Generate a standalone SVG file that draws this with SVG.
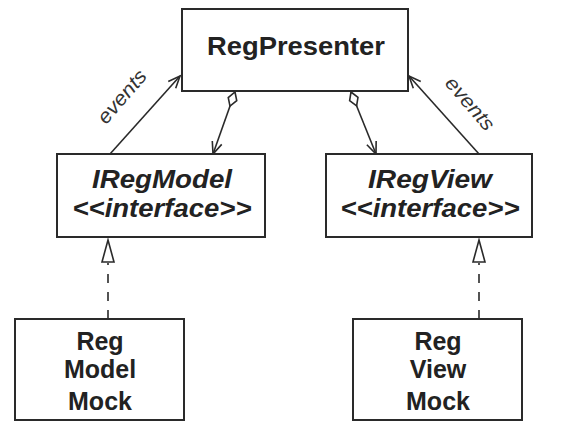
<svg xmlns="http://www.w3.org/2000/svg" width="573" height="423" viewBox="0 0 573 423">
<style>
.box{fill:#fff;stroke:#2a2a2a;stroke-width:2}
.t{font-family:"Liberation Sans",Arial,sans-serif;font-weight:bold;font-size:25px;fill:#222;text-anchor:middle}
.i{font-style:italic}
.lbl{font-family:"Liberation Sans",Arial,sans-serif;font-style:italic;font-size:20px;fill:#333;text-anchor:middle}
.ln{fill:none;stroke:#2a2a2a;stroke-width:1.6}
</style>
<defs>
<marker id="open" markerUnits="userSpaceOnUse" markerWidth="16" markerHeight="14" refX="13" refY="6" orient="auto" viewBox="0 0 16 12">
<path d="M1,1 L13,6 L1,11" fill="none" stroke="#2a2a2a" stroke-width="1.6"/>
</marker>
<marker id="dia" markerUnits="userSpaceOnUse" markerWidth="18" markerHeight="12" refX="1" refY="6" orient="auto" viewBox="0 0 18 12">
<path d="M1,6 L8.5,1.5 L16,6 L8.5,10.5 Z" fill="#fff" stroke="#2a2a2a" stroke-width="1.6"/>
</marker>
</defs>
<g id="connectors">
<path class="ln" d="M110,154 L180,76" marker-end="url(#open)"/>
<path class="ln" d="M479,154 L409,76" marker-end="url(#open)"/>
<path class="ln" d="M235,92 L213,154" marker-start="url(#dia)" marker-end="url(#open)"/>
<path class="ln" d="M351,92 L376,154" marker-start="url(#dia)" marker-end="url(#open)"/>
<path class="ln" d="M108,319 L108,263" stroke-dasharray="9 9"/>
<path d="M108,240 L114,262 L102,262 Z" fill="#fff" stroke="#2a2a2a" stroke-width="1.6"/>
<path class="ln" d="M479,319 L479,263" stroke-dasharray="9 9"/>
<path d="M479,240 L485,262 L473,262 Z" fill="#fff" stroke="#2a2a2a" stroke-width="1.6"/>
<text class="lbl" transform="translate(127,101) rotate(-49)" textLength="64" lengthAdjust="spacingAndGlyphs">events</text>
<text class="lbl" transform="translate(465,108) rotate(49)" textLength="64" lengthAdjust="spacingAndGlyphs">events</text>
</g>
<g id="RegPresenter">
<rect class="box" x="182" y="9" width="226" height="82"/>
<text class="t" x="296" y="55" textLength="178" lengthAdjust="spacingAndGlyphs">RegPresenter</text>
</g>
<g id="IRegModel">
<rect class="box" x="57" y="154" width="208" height="83"/>
<text class="t i" x="162" y="188" textLength="140" lengthAdjust="spacingAndGlyphs">IRegModel</text>
<text class="t i" x="162" y="217" textLength="179" lengthAdjust="spacingAndGlyphs">&lt;&lt;interface&gt;&gt;</text>
</g>
<g id="IRegView">
<rect class="box" x="326" y="154" width="206" height="83"/>
<text class="t i" x="430" y="188" textLength="124" lengthAdjust="spacingAndGlyphs">IRegView</text>
<text class="t i" x="430" y="217" textLength="179" lengthAdjust="spacingAndGlyphs">&lt;&lt;interface&gt;&gt;</text>
</g>
<g id="RegModelMock">
<rect class="box" x="15" y="319" width="169" height="101"/>
<text class="t" x="100" y="350">Reg</text>
<text class="t" x="100" y="378">Model</text>
<text class="t" x="100" y="410">Mock</text>
</g>
<g id="RegViewMock">
<rect class="box" x="353" y="319" width="169" height="101"/>
<text class="t" x="438" y="350">Reg</text>
<text class="t" x="438" y="378">View</text>
<text class="t" x="438" y="410">Mock</text>
</g>
</svg>
